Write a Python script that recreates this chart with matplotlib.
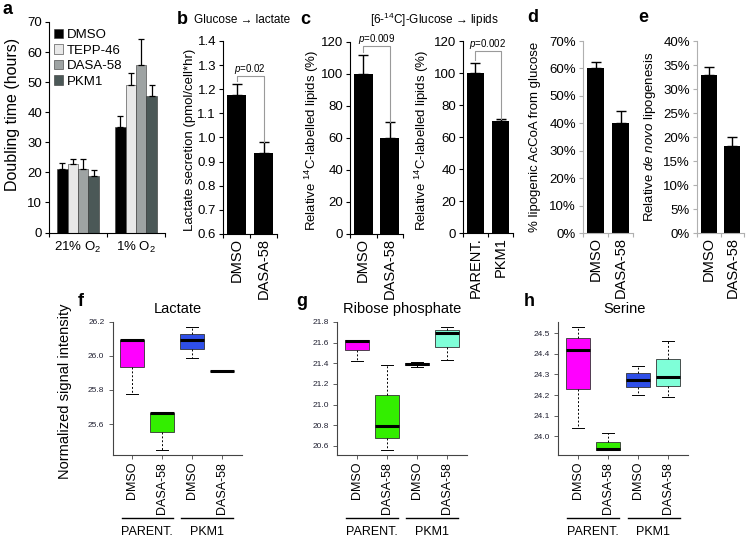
import matplotlib
matplotlib.use('Agg')
import matplotlib.pyplot as plt
import numpy as np
from matplotlib.transforms import blended_transform_factory
from matplotlib.ticker import FuncFormatter

plt.rcParams['font.family'] = ['Liberation Sans', 'DejaVu Sans']
plt.rcParams['mathtext.fontset'] = 'custom'
plt.rcParams['mathtext.rm'] = 'Liberation Sans'
plt.rcParams['mathtext.it'] = 'Liberation Sans:italic'
plt.rcParams['mathtext.bf'] = 'Liberation Sans:bold'

# ---------------- data ----------------
a_groups = ['21% O$_2$', '1% O$_2$']
a_series = ['DMSO', 'TEPP-46', 'DASA-58', 'PKM1']
a_dmso = [21.0, 35.2]
a_dmso_err = [2.0, 3.4]
a_tepp = [22.7, 49.2]
a_tepp_err = [1.6, 3.9]
a_dasa = [21.2, 55.6]
a_dasa_err = [3.1, 8.7]
a_pkm1 = [18.9, 45.5]
a_pkm1_err = [1.9, 3.4]

b_labels = ['DMSO', 'DASA-58']
b_vals = [1.175, 0.935]
b_errs = [0.045, 0.047]

c1_labels = ['DMSO', 'DASA-58']
c1_vals = [100, 60]
c1_errs = [12, 10]

c2_labels = ['PARENT.', 'PKM1']
c2_vals = [100, 70]
c2_errs = [6.5, 1.5]

d_labels = ['DMSO', 'DASA-58']
d_vals = [0.60, 0.40]
d_errs = [0.023, 0.043]

e_labels = ['DMSO', 'DASA-58']
e_vals = [0.33, 0.182]
e_errs = [0.015, 0.017]

box_labels = ['DMSO', 'DASA-58', 'DMSO', 'DASA-58']
box_groups = ['PARENT.', 'PKM1']

lac_lo = [25.776, 25.447, 25.989, 25.909]
lac_q1 = [25.934, 25.551, 26.038, 25.909]
lac_med = [26.096, 25.665, 26.092, 25.909]
lac_q3 = [26.096, 25.665, 26.131, 25.909]
lac_hi = [26.096, 25.665, 26.172, 25.909]

rib_lo = [21.423, 20.560, 21.360, 21.430]
rib_q1 = [21.527, 20.679, 21.379, 21.558]
rib_med = [21.618, 20.795, 21.390, 21.694]
rib_q3 = [21.623, 21.090, 21.405, 21.726]
rib_hi = [21.623, 21.382, 21.410, 21.755]

ser_lo = [24.041, 23.933, 24.200, 24.190]
ser_q1 = [24.229, 23.933, 24.237, 24.242]
ser_med = [24.419, 23.936, 24.271, 24.290]
ser_q3 = [24.476, 23.973, 24.307, 24.376]
ser_hi = [24.532, 24.017, 24.342, 24.464]

# ---------------- layout helpers ----------------
W, H = 750, 541
fig = plt.figure(figsize=(W / 100, H / 100), dpi=100)


def add_ax(x0, x1, ytop, ybot):
    return fig.add_axes([x0 / W, 1 - ybot / H, (x1 - x0) / W, (ybot - ytop) / H])


def ftext(x, y, s, **kw):
    fig.text(x / W, 1 - y / H, s, **kw)


TICK_FS = 9.5
XLAB_FS = 10.5
YLAB_FS = 9.5
ARROW = '\u2192'


def style_bar_axes(ax, n, spine_color='k'):
    for s in ['top', 'right']:
        ax.spines[s].set_visible(False)
    for s in ['left', 'bottom']:
        ax.spines[s].set_color(spine_color)
        ax.spines[s].set_linewidth(0.8)
    ax.set_xlim(-0.5, n - 0.5)
    ax.set_xticks(np.arange(-0.5, n), minor=True)
    ax.tick_params(axis='x', which='major', length=0, labelsize=XLAB_FS, pad=3)
    ax.tick_params(axis='x', which='minor', length=3, width=0.8, direction='out', color=spine_color)
    ax.tick_params(axis='y', which='major', length=3, width=0.8, direction='out',
                   labelsize=TICK_FS, color=spine_color, pad=2)


def bar_panel(rect, labels, vals, errs, ylim, yticks, fmt, spine_color='k'):
    ax = add_ax(*rect)
    x = np.arange(len(vals))
    ax.bar(x, vals, width=0.7, color='k',
           yerr=[np.zeros(len(errs)), errs], capsize=3.5,
           error_kw=dict(elinewidth=1, capthick=1, ecolor='k'))
    style_bar_axes(ax, len(vals), spine_color)
    ax.set_ylim(*ylim)
    ax.set_yticks(yticks)
    ax.yaxis.set_major_formatter(FuncFormatter(fmt))
    ax.set_xticks(x)
    ax.set_xticklabels(labels, rotation=90, va='top', ha='center')
    return ax


def pbracket(ax, vals, errs, ybar, yleft, text):
    x0, x1 = 0, 1
    ax.plot([x0, x0, x1, x1], [yleft, ybar, ybar, vals[1] + errs[1]],
            color='#9a9a9a', lw=0.8, clip_on=False)
    ax.text(0.5, ybar, text, ha='center', va='bottom', fontsize=7, clip_on=False)


# ---------------- panel a ----------------
axa = add_ax(49, 165, 22, 232.5)
a_vals = [a_dmso, a_tepp, a_dasa, a_pkm1]
a_errs = [a_dmso_err, a_tepp_err, a_dasa_err, a_pkm1_err]
a_colors = ['#000000', '#e8e8e8', '#9ea3a3', '#4b5857']
xg = np.arange(len(a_groups))
bw = 0.18
handles = []
for i, (v, e, c, lab) in enumerate(zip(a_vals, a_errs, a_colors, a_series)):
    h = axa.bar(xg + (i - 1.5) * bw, v, width=bw, color=c, edgecolor='#333333', linewidth=0.4,
                yerr=[np.zeros(len(e)), e], capsize=2.5,
                error_kw=dict(elinewidth=0.9, capthick=0.9, ecolor='k'), label=lab)
    handles.append(h)
style_bar_axes(axa, len(a_groups))
axa.set_ylim(0, 70)
axa.set_yticks(np.arange(0, 71, 10))
axa.set_xticks(xg)
axa.set_xticklabels(a_groups)
axa.tick_params(axis='x', which='major', pad=5, labelsize=9.5)
leg = axa.legend(handles=handles, loc='upper left', bbox_to_anchor=(0.02, 0.98), frameon=False,
                 fontsize=9.5, handlelength=0.7, handleheight=0.7, handletextpad=0.25,
                 labelspacing=0.25, borderaxespad=0.0, borderpad=0.2)
ftext(13, 114, 'Doubling time (hours)', rotation=90, ha='center', va='center', fontsize=11.5)
ftext(7, 9, 'a', fontsize=13, fontweight='bold', ha='center', va='center')

# ---------------- panel b ----------------
axb = bar_panel((223, 277, 41, 234), b_labels, b_vals, b_errs, (0.6, 1.4),
                np.arange(0.6, 1.41, 0.1), lambda v, p: f'{v:.1f}')
pbracket(axb, b_vals, b_errs, 1.255, 1.235, r'$p$=0.02')
ftext(190, 140, 'Lactate secretion (pmol/cell*hr)', rotation=90, ha='center', va='center',
      fontsize=YLAB_FS)
ftext(182, 19, 'b', fontsize=13, fontweight='bold', ha='center', va='center')
ftext(242, 20, 'Glucose ' + ARROW + ' lactate', fontsize=8.5, ha='center', va='center')

# ---------------- panel c ----------------
axc1 = bar_panel((350, 403, 42, 234), c1_labels, c1_vals, c1_errs, (0, 120),
                 np.arange(0, 121, 20), lambda v, p: f'{v:.0f}')
pbracket(axc1, c1_vals, c1_errs, 117.5, 114, r'$p$=0.009')
ftext(311.5, 140, r'Relative $^{14}$C-labelled lipids (%)', rotation=90, ha='center',
      va='center', fontsize=YLAB_FS)

axc2 = bar_panel((463, 513, 41, 233), c2_labels, c2_vals, c2_errs, (0, 120),
                 np.arange(0, 121, 20), lambda v, p: f'{v:.0f}')
pbracket(axc2, c2_vals, c2_errs, 114, 108, r'$p$=0.002')
ftext(421.5, 140, r'Relative $^{14}$C-labelled lipids (%)', rotation=90, ha='center',
      va='center', fontsize=YLAB_FS)
ftext(305, 19, 'c', fontsize=13, fontweight='bold', ha='center', va='center')
ftext(434, 20, r'[6-$^{14}$C]-Glucose ' + ARROW + ' lipids', fontsize=8.5, ha='center',
      va='center')

# ---------------- panel d ----------------
axd = bar_panel((583, 633, 41, 233), d_labels, d_vals, d_errs, (0, 0.7),
                np.arange(0, 0.71, 0.1), lambda v, p: f'{v * 100:.0f}%', spine_color='#b0b0b0')
ftext(535, 137, '% lipogenic AcCoA from glucose', rotation=90, ha='center', va='center',
      fontsize=YLAB_FS)
ftext(533, 18, 'd', fontsize=13, fontweight='bold', ha='center', va='center')

# ---------------- panel e ----------------
axe = bar_panel((697, 744, 41, 233), e_labels, e_vals, e_errs, (0, 0.4),
                np.arange(0, 0.41, 0.05), lambda v, p: f'{v * 100:.0f}%', spine_color='#b0b0b0')
ftext(650, 137, r'Relative $\it{de\ novo}$ lipogenesis', rotation=90, ha='center', va='center',
      fontsize=YLAB_FS)
ftext(643, 18, 'e', fontsize=13, fontweight='bold', ha='center', va='center')

# ---------------- box panels ----------------
box_colors = ['#ff00ff', '#33ee00', '#2f4fe8', '#7fffd8']


def box_panel(rect, lo, q1, med, q3, hi, yticks, title, letter, title_x, letter_x):
    ax = add_ax(*rect)
    stats = [dict(whislo=a, q1=b, med=c, q3=d, whishi=e, fliers=[])
             for a, b, c, d, e in zip(lo, q1, med, q3, hi)]
    pos = np.arange(1, len(stats) + 1)
    bp = ax.bxp(stats, positions=pos, widths=0.8, patch_artist=True, showfliers=False,
                capwidths=0.4,
                boxprops=dict(edgecolor='#333333', linewidth=0.6),
                whiskerprops=dict(linestyle=(0, (2, 2)), linewidth=0.7, color='k'),
                capprops=dict(linewidth=0.7, color='k'),
                medianprops=dict(linewidth=2.2, color='k', solid_capstyle='butt'))
    for patch, c in zip(bp['boxes'], box_colors):
        patch.set_facecolor(c)
    rng = max(hi) - min(lo)
    ax.set_ylim(min(lo) - 0.04 * rng, max(hi) + 0.04 * rng)
    n = len(stats)
    ax.set_xlim(0.5 - 0.04 * n, n + 0.5 + 0.04 * n)
    for s in ['top', 'right']:
        ax.spines[s].set_visible(False)
    for s in ['left', 'bottom']:
        ax.spines[s].set_color('#444444')
        ax.spines[s].set_linewidth(0.8)
    ax.set_yticks(yticks)
    ax.yaxis.set_major_formatter(FuncFormatter(lambda v, p: f'{v:.1f}'))
    ax.tick_params(axis='y', length=3, width=0.6, labelsize=6, labelcolor='#222233',
                   color='#444444', pad=3)
    ax.set_xticks(pos)
    ax.set_xticklabels(box_labels, rotation=90, va='top', ha='center')
    ax.tick_params(axis='x', length=3, width=0.6, labelsize=9, color='#444444', pad=2)
    trans = blended_transform_factory(ax.transData, ax.transAxes)
    for gi, g in enumerate(box_groups):
        start = 2 * gi + 1
        ax.plot([start - 0.36, start + 1 + 0.37], [-0.473, -0.473], transform=trans,
                color='k', lw=1.0, clip_on=False)
        ax.text(start + 0.5, -0.575, g, transform=trans, ha='center', va='center', fontsize=9)
    ftext(title_x, 309, title, fontsize=10.5, ha='center', va='center')
    ftext(letter_x, 302, letter, fontsize=13, fontweight='bold', ha='center', va='center')
    return ax


box_panel((112.7, 241.7, 321.7, 455), lac_lo, lac_q1, lac_med, lac_q3, lac_hi,
          [25.6, 25.8, 26.0, 26.2], 'Lactate', 'f', 178, 81)
box_panel((337.3, 466.7, 321.7, 455), rib_lo, rib_q1, rib_med, rib_q3, rib_hi,
          [20.6, 20.8, 21.0, 21.2, 21.4, 21.6, 21.8], 'Ribose phosphate', 'g', 402, 302)
box_panel((558.3, 688.3, 321.7, 455), ser_lo, ser_q1, ser_med, ser_q3, ser_hi,
          [24.0, 24.1, 24.2, 24.3, 24.4, 24.5], 'Serine', 'h', 625, 529)
ftext(65, 391, 'Normalized signal intensity', rotation=90, ha='center', va='center',
      fontsize=10.5)

fig.savefig('out.png', dpi=100)
